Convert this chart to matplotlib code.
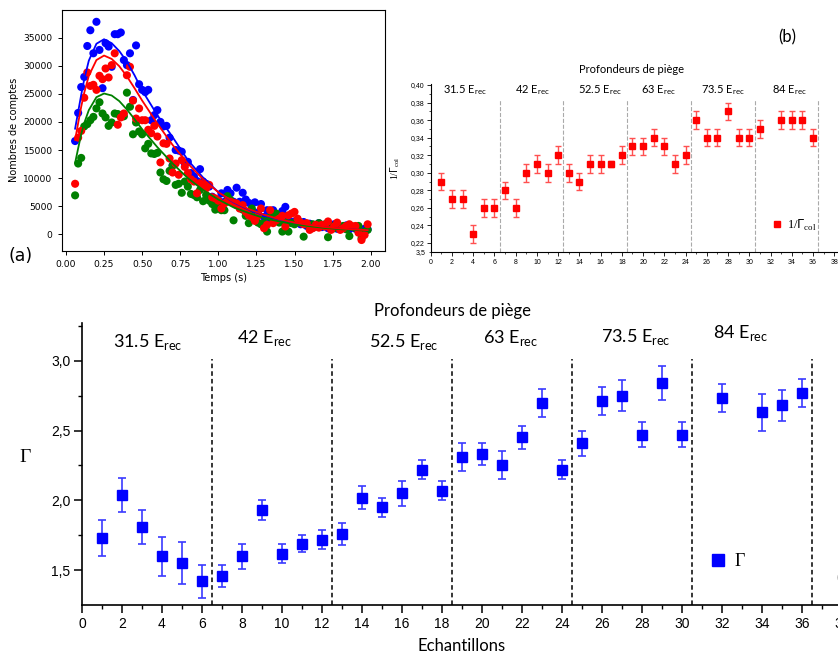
import matplotlib
matplotlib.use('Agg')
import matplotlib.pyplot as plt
import numpy as np
from matplotlib.ticker import MultipleLocator, FuncFormatter
from matplotlib.lines import Line2D

W, H = 838, 655

# ---- panel (a): counts vs time ----
t = [0.06, 0.08, 0.10, 0.12, 0.14, 0.16, 0.18, 0.20, 0.22, 0.24,
     0.26, 0.28, 0.30, 0.32, 0.34, 0.36, 0.38, 0.40, 0.42, 0.44,
     0.46, 0.48, 0.50, 0.52, 0.54, 0.56, 0.58, 0.60, 0.62, 0.64,
     0.66, 0.68, 0.70, 0.72, 0.74, 0.76, 0.78, 0.80, 0.82, 0.84,
     0.86, 0.88, 0.90, 0.92, 0.94, 0.96, 0.98, 1.00, 1.02, 1.04,
     1.06, 1.08, 1.10, 1.12, 1.14, 1.16, 1.18, 1.20, 1.22, 1.24,
     1.26, 1.28, 1.30, 1.32, 1.34, 1.36, 1.38, 1.40, 1.42, 1.44,
     1.46, 1.48, 1.50, 1.52, 1.54, 1.56, 1.58, 1.60, 1.62, 1.64,
     1.66, 1.68, 1.70, 1.72, 1.74, 1.76, 1.78, 1.80, 1.82, 1.84,
     1.86, 1.88, 1.90, 1.92, 1.94, 1.96, 1.98]
blue_pts = [16600, 21600, 26200, 28000, 33500, 36300, 32200, 37800, 32800, 26000,
            34000, 33400, 29800, 35600, 35600, 35900, 31000, 30100, 32200, 23900,
            33600, 26700, 25700, 25300, 25700, 20300, 21200, 22100, 20000, 19200,
            19300, 17200, 12300, 15000, 14900, 14700, 12600, 12900, 10900, 10300,
            9500, 11600, 9400, 9000, 8500, 6700, 5800, 6100, 7300, 5800,
            7900, 7300, 5800, 8300, 5800, 7400, 6200, 5600, 4300, 5700,
            3900, 5400, 3100, 4300, 2800, 4300, 2500, 3400, 4150, 4900,
            2500, 2100, 2300, 2600, 1800, 2200, 1500, 1900, 1200, 1600,
            2000, 1300, 1700, 1100, 1500, 1800, 1000, 1400, 1200, 1600,
            900, 1300, 1000, 1200, 700, 1000, 900]
red_pts = [9000, 17200, 18400, 24300, 28800, 26400, 26600, 25700, 28200, 27600,
           29500, 27900, 30100, 32200, 19500, 20800, 21500, 28300, 29800, 23800,
           20600, 22400, 20300, 20300, 18600, 18000, 19300, 17400, 12800, 16200,
           16100, 13500, 11000, 12600, 10600, 13200, 12000, 10900, 9800, 9400,
           7300, 9100, 8800, 8200, 8800, 6600, 6400, 6000, 4600, 5500,
           5900, 5800, 5600, 5500, 4600, 5200, 4000, 3400, 3100, 2400,
           3300, 4600, 1100, 1700, 4300, 2000, 2500, 2800, 3300, 1400,
           3400, 3700, 4000, 2800, 2100, 1800, 2000, 800, 1100, 1700,
           1200, 1700, 1400, 2300, 800, 1400, 2100, 800, 1100, 1500,
           1800, 1400, 1500, 300, -1000, -100, 1800]
green_pts = [6940, 12600, 13600, 19200, 19600, 20300, 20900, 22400, 23500, 21500,
             20800, 19300, 19900, 21500, 21400, 21200, 21000, 25200, 22700, 17800,
             19900, 18300, 17800, 15300, 16100, 14400, 14300, 14500, 11000, 9800,
             9500, 11300, 12200, 8800, 9000, 7400, 9400, 8500, 7200, 7000,
             6600, 7900, 5900, 7000, 6000, 5400, 4400, 4900, 4300, 4300,
             6800, 6100, 2500, 5200, 4800, 4400, 3300, 2000, 4600, 3100,
             2100, 1800, 2000, 500, 3100, 3600, 3700, 2100, 500, 2100,
             500, 2000, 1800, 2300, 2100, -400, 1800, 1100, 1800, 1400,
             2000, 1500, 1800, -500, 1500, 1100, 1700, 1200, 1500, 900,
             -300, 1400, 1100, 1500, -700, 500, 800]

t_fit = [0.06, 0.08, 0.10, 0.12, 0.15, 0.20, 0.25, 0.30, 0.35, 0.40, 0.45, 0.50, 0.60, 0.70,
         0.80, 0.90, 1.00, 1.10, 1.20, 1.30, 1.40, 1.50, 1.60, 1.70, 1.80, 1.90, 1.98]
blue_fit = [18800, 21800, 24800, 27600, 30900, 33900, 34700, 34000, 32600, 30700, 28300, 25600,
            21200, 17300, 13200, 10100, 7500, 5700, 4400, 3400, 2600, 2000, 1600, 1250, 1000, 850, 700]
red_fit = [16800, 19800, 22700, 25200, 28200, 31000, 31800, 31200, 29900, 28100, 26000, 23800,
           19700, 15900, 12600, 9800, 7500, 5800, 4500, 3500, 2700, 2100, 1650, 1300, 1050, 880, 750]
green_fit = [12700, 15300, 17800, 19800, 22100, 24400, 25050, 24700, 23700, 22200, 20500, 18700,
             15500, 12600, 10000, 7900, 6200, 4800, 3800, 2900, 2300, 1800, 1450, 1150, 930, 780, 650]

# ---- panel (b): 1/Gamma_col ----
xb = [1, 2, 3, 4, 5, 6, 7, 8, 9, 10, 11, 12, 13, 14, 15, 16, 17, 18,
      19, 20, 21, 22, 23, 24, 25, 26, 27, 28, 29, 30, 31, 33, 34, 35, 36]
inv_gcol = [0.29, 0.27, 0.27, 0.23, 0.26, 0.26, 0.28, 0.26, 0.30, 0.31, 0.30, 0.32,
            0.30, 0.29, 0.31, 0.31, 0.31, 0.32, 0.33, 0.33, 0.34, 0.33, 0.31, 0.32,
            0.36, 0.34, 0.34, 0.37, 0.34, 0.34, 0.35, 0.36, 0.36, 0.36, 0.34]
inv_gcol_err = [0.01] * 16 + [0.003] + [0.01] * 18

# ---- panel (c): Gamma ----
xg = [1, 2, 3, 4, 5, 6, 7, 8, 9, 10, 11, 12, 13, 14, 15, 16, 17, 18,
      19, 20, 21, 22, 23, 24, 25, 26, 27, 28, 29, 30, 32, 34, 35, 36]
gamma = [1.73, 2.04, 1.81, 1.60, 1.55, 1.42, 1.46, 1.60, 1.93, 1.62, 1.69, 1.72,
         1.76, 2.02, 1.95, 2.05, 2.22, 2.07, 2.31, 2.33, 2.25, 2.45, 2.70, 2.22,
         2.41, 2.71, 2.75, 2.47, 2.84, 2.47, 2.73, 2.63, 2.68, 2.77]
gamma_err = [0.13, 0.12, 0.12, 0.14, 0.15, 0.12, 0.08, 0.09, 0.07, 0.07, 0.06, 0.07,
             0.08, 0.08, 0.07, 0.09, 0.07, 0.07, 0.10, 0.08, 0.10, 0.08, 0.10, 0.07,
             0.09, 0.10, 0.11, 0.09, 0.12, 0.09, 0.10, 0.13, 0.11, 0.10]

depths = ['31.5', '42', '52.5', '63', '73.5', '84']
separators = [6.5, 12.5, 18.5, 24.5, 30.5, 36.5]


def box(l, t_, r, b):
    return [l / W, 1 - b / H, (r - l) / W, (b - t_) / H]


def comma(v, pos, nd=1):
    return ('%.*f' % (nd, v)).replace('.', ',')


fig = plt.figure(figsize=(W / 100, H / 100), dpi=100)

# ---------- (a) ----------
axa = fig.add_axes(box(61.7, 10, 385, 250.7))
for pts, fit, c in [(blue_pts, blue_fit, 'blue'), (green_pts, green_fit, 'green'), (red_pts, red_fit, 'red')]:
    axa.scatter(t, pts, s=34, color=c, edgecolors='none', zorder=2)
    axa.plot(t_fit, fit, color=c, lw=1.3, zorder=3)
axa.set_xlim(-0.028, 2.094)
axa.set_ylim(-2900, 39900)
axa.set_xticks(np.arange(0, 2.01, 0.25))
axa.xaxis.set_major_formatter(FuncFormatter(lambda v, p: '%.2f' % v))
axa.set_yticks(range(0, 35001, 5000))
axa.tick_params(labelsize=6.6, length=3, width=0.7)
axa.set_xlabel('Temps (s)', fontsize=7, labelpad=3)
axa.set_ylabel('Nombres de comptes', fontsize=7, labelpad=3)
for s in axa.spines.values():
    s.set_linewidth(0.8)
fig.text(21 / W, 1 - 256 / H, '(a)', fontsize=12.5, ha='center', va='center')

# ---------- (b) ----------
axb = fig.add_axes(box(430.7, 84.1, 838, 252.3))
axb.errorbar(xb, inv_gcol, yerr=inv_gcol_err, fmt='none', ecolor='#ff5050',
             elinewidth=1.0, capsize=2.0, capthick=1.0)
axb.plot(xb, inv_gcol, 's', color='red', ms=3.8, zorder=3)
axb.set_xlim(0, 38.35)
axb.set_ylim(0.2094, 0.401)
for sx in separators:
    axb.plot([sx, sx], [0.2094, 0.384], ls='--', color='#aaaaaa', lw=0.8)
axb.spines['top'].set_visible(False)
axb.spines['right'].set_visible(False)
for s in axb.spines.values():
    s.set_linewidth(0.8)
axb.xaxis.set_major_locator(MultipleLocator(2))
axb.xaxis.set_minor_locator(MultipleLocator(1))
axb.set_yticks(np.arange(0.22, 0.401, 0.02))
axb.yaxis.set_minor_locator(MultipleLocator(0.01))
axb.yaxis.set_major_formatter(FuncFormatter(lambda v, p: comma(v, p, 2)))
axb.tick_params(which='major', length=3, width=0.6, labelsize=5, pad=1.5)
axb.tick_params(which='minor', length=1.5, width=0.5)
for lab in axb.get_xticklabels() + axb.get_yticklabels():
    lab.set_family(['Liberation Sans Narrow', 'Liberation Sans'])
axb.text(-0.5, 0.2094, '3,5', fontsize=5, ha='right', va='center',
         family=['Liberation Sans Narrow', 'Liberation Sans'])
axb.set_ylabel(r'1/$\Gamma_{\mathregular{col}}$', fontsize=7, family='Liberation Serif', labelpad=6)
bx = [3.23, 9.54, 15.9, 21.4, 27.55, 33.8]
for x, d in zip(bx, depths):
    axb.text(x, 0.3905, d + r' E$_{\mathregular{rec}}$', fontsize=8, family='Lato',
             ha='center', va='baseline')
fig.text(631.7 / W, 1 - 73.3 / H, 'Profondeurs de piège', fontsize=8, family='Lato',
         ha='center', va='baseline')
fig.text(787 / W, 1 - 37 / H, '(b)', fontsize=12, family='Lato', ha='center', va='center')
axb.legend(handles=[Line2D([], [], marker='s', ls='', color='red', ms=5,
                           label=r'1/$\Gamma_{\mathregular{col}}$')],
           loc='center left', bbox_to_anchor=(766 / W, 1 - 225 / H), bbox_transform=fig.transFigure,
           frameon=False, borderaxespad=0, handlelength=1.0, handletextpad=0.3,
           prop={'family': 'Liberation Serif', 'size': 9})

# ---------- (c) ----------
axc = fig.add_axes(box(82, 323, 842, 604.7))
axc.errorbar(xg, gamma, yerr=gamma_err, fmt='none', ecolor='#3a3aff',
             elinewidth=1.2, capsize=2.6, capthick=1.2)
axc.plot(xg, gamma, 's', color='blue', ms=6.6, zorder=3)
axc.set_xlim(0, 38)
axc.set_ylim(1.254, 3.269)
for sx in separators:
    axc.plot([sx, sx], [1.254, 3.01], ls=(0, (3, 2)), color='black', lw=1.1)
axc.spines['top'].set_visible(False)
axc.spines['right'].set_visible(False)
for s in axc.spines.values():
    s.set_linewidth(1.2)
axc.xaxis.set_major_locator(MultipleLocator(2))
axc.xaxis.set_minor_locator(MultipleLocator(1))
axc.yaxis.set_major_locator(MultipleLocator(0.5))
axc.yaxis.set_minor_locator(MultipleLocator(0.25))
axc.yaxis.set_major_formatter(FuncFormatter(lambda v, p: comma(v, p, 1)))
axc.tick_params(which='major', length=5.5, width=1.1, labelsize=10, pad=3)
axc.tick_params(which='minor', length=3, width=1.0)
for lab in axc.get_xticklabels() + axc.get_yticklabels():
    lab.set_family('Liberation Sans')
cx = [3.28, 9.13, 16.1, 21.4, 27.7, 32.9]
cy = [3.10, 3.124, 3.10, 3.124, 3.13, 3.16]
for x, y, d in zip(cx, cy, depths):
    axc.text(x, y, d + r' E$_{\mathregular{rec}}$', fontsize=13, family='Lato',
             ha='center', va='baseline')
fig.text(452 / W, 1 - 316 / H, 'Profondeurs de piège', fontsize=12, family='Lato',
         ha='center', va='baseline')
fig.text(462 / W, 1 - 646 / H, 'Echantillons', fontsize=12, family='Lato',
         ha='center', va='center')
fig.text(25 / W, 1 - 457 / H, 'Γ', fontsize=14, family='Liberation Serif',
         ha='center', va='center')
fig.text(836 / W, 1 - 578 / H, '(c)', fontsize=12, family='Lato', ha='left', va='center')
axc.legend(handles=[Line2D([], [], marker='s', ls='', color='blue', ms=9, label='Γ')],
           loc='center left', bbox_to_anchor=(702 / W, 1 - 562 / H), bbox_transform=fig.transFigure,
           frameon=False, borderaxespad=0, handlelength=1.0, handletextpad=0.4,
           prop={'family': 'Liberation Serif', 'size': 13})

fig.savefig('out.png', dpi=100)
